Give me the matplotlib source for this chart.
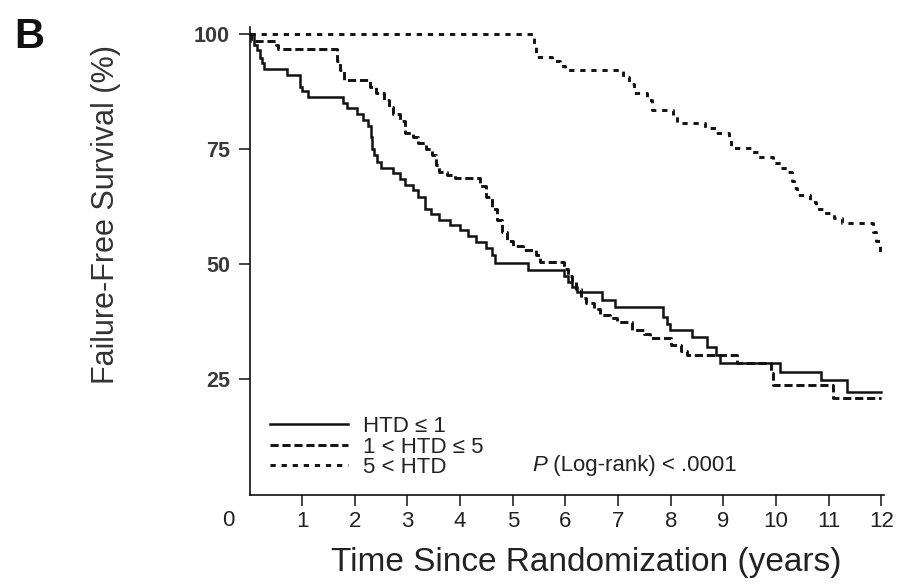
import matplotlib
matplotlib.use("Agg")
import matplotlib.pyplot as plt
from matplotlib import font_manager

W, H, DPI = 897, 587, 100

# Kaplan-Meier failure-free survival (%) by hormone treatment duration group
time_htd_le1 = [0, 0.08, 0.15, 0.20, 0.24, 0.28, 0.72, 0.95, 1.00, 1.12, 1.78, 1.85,
                2.05, 2.15, 2.25, 2.30, 2.33, 2.36, 2.42, 2.50, 2.72, 2.85, 2.95, 3.10,
                3.20, 3.33, 3.45, 3.60, 3.80, 4.00, 4.15, 4.30, 4.50, 4.60, 4.66, 5.28,
                5.98, 6.05, 6.12, 6.22, 6.70, 6.95, 7.85, 7.92, 7.98, 8.40, 8.68, 8.86,
                8.94, 10.08, 10.85, 11.35, 12.0]
surv_htd_le1 = [100, 97.5, 96.5, 94.7, 93.5, 92.3, 90.9, 88.5, 87.5, 86.3, 85.0, 83.8,
                82.5, 81.2, 80.0, 77.5, 75.0, 73.6, 72.2, 70.8, 69.7, 68.5, 67.2, 66.0,
                64.5, 62.0, 60.8, 59.5, 58.5, 57.3, 56.0, 54.8, 53.5, 52.0, 50.2, 48.7,
                47.5, 46.0, 45.0, 44.0, 42.2, 40.6, 38.5, 37.0, 35.7, 34.2, 32.1, 30.3,
                28.5, 26.6, 24.8, 22.3, 22.3]

time_htd_1to5 = [0, 0.03, 0.50, 0.55, 1.66, 1.72, 1.80, 2.28, 2.40, 2.55, 2.65, 2.72,
                 2.86, 2.96, 3.10, 3.20, 3.35, 3.47, 3.55, 3.60, 3.75, 3.90, 4.38, 4.50,
                 4.60, 4.70, 4.80, 4.89, 5.00, 5.20, 5.45, 5.52, 5.97, 6.05, 6.12, 6.20,
                 6.30, 6.40, 6.55, 6.66, 6.85, 6.98, 7.26, 7.50, 7.60, 8.00, 8.20, 8.30,
                 9.26, 9.90, 9.95, 11.08, 12.0]
surv_htd_1to5 = [100, 98.3, 97.5, 96.6, 94.0, 92.0, 90.0, 88.5, 87.0, 85.5, 84.0, 82.5,
                 81.0, 78.5, 77.5, 76.2, 75.0, 73.6, 71.5, 70.0, 69.3, 68.6, 67.0, 64.5,
                 62.0, 59.5, 57.0, 55.0, 54.0, 53.0, 52.0, 50.4, 49.0, 47.5, 46.0, 44.5,
                 42.6, 41.5, 40.3, 39.0, 38.2, 37.5, 35.7, 34.8, 33.9, 32.4, 31.2, 30.3,
                 28.5, 26.4, 23.8, 20.9, 20.9]

time_htd_gt5 = [0, 5.40, 5.45, 5.75, 5.90, 6.00, 7.10, 7.20, 7.30, 7.55, 7.65, 8.05,
                8.12, 8.65, 8.85, 9.10, 9.15, 9.55, 9.65, 9.95, 10.10, 10.20, 10.30,
                10.35, 10.40, 10.65, 10.75, 10.90, 11.10, 11.25, 11.85, 11.90, 11.97, 12.0]
surv_htd_gt5 = [100, 97.5, 95.0, 94.0, 93.0, 92.0, 90.5, 89.0, 87.0, 85.5, 83.5, 82.0,
                80.5, 79.5, 78.5, 77.0, 75.2, 74.3, 73.3, 72.0, 70.8, 70.0, 68.0,
                66.5, 65.0, 63.5, 62.0, 61.0, 60.0, 59.0, 57.0, 55.0, 52.5, 52.5]

group_labels = ["HTD \u2264 1", "1 < HTD \u2264 5", "5 < HTD"]
x_ticks = list(range(1, 13))
y_ticks = [25, 50, 75, 100]
x_title = "Time Since Randomization (years)"
y_title = "Failure-Free Survival (%)"
panel_tag = "B"
pvalue_text = " (Log-rank) < .0001"

installed = {f.name for f in font_manager.fontManager.ttflist}
SANS = [n for n in ["Liberation Sans", "DejaVu Sans"] if n in installed]
plt.rcParams["font.family"] = SANS

INK = "#111111"

fig = plt.figure(figsize=(W / DPI, H / DPI), dpi=DPI)
x0, x1, y0, y1 = 249.5, 884.0, 494.5, 26.6
ax = fig.add_axes([x0 / W, 1 - y0 / H, (x1 - x0) / W, (y0 - y1) / H])
ax.set_xlim(0, 12.05)
ax.set_ylim(0, 101.5)

styles = ["-", (0, (2.8, 1.3)), (0, (1.8, 2.0))]
widths = [1.8, 2.1, 2.1]
series = [(time_htd_le1, surv_htd_le1), (time_htd_1to5, surv_htd_1to5),
          (time_htd_gt5, surv_htd_gt5)]
handles = []
for (t, s), ls, lw, lab in zip(series, styles, widths, group_labels):
    h, = ax.step(t, s, where="post", color=INK, lw=lw, linestyle=ls,
                 label=lab, clip_on=False, solid_joinstyle="miter")
    handles.append(h)

for side in ("top", "right"):
    ax.spines[side].set_visible(False)
for side in ("left", "bottom"):
    ax.spines[side].set_linewidth(1.2)
    ax.spines[side].set_color(INK)

ax.set_xticks(x_ticks)
ax.set_xticklabels([str(v) for v in x_ticks], fontsize=16, color="#222222")
ax.set_yticks(y_ticks)
ax.set_yticklabels([str(v) for v in y_ticks], fontsize=15.5,
                   fontweight="bold", color="#3a3a3a")
ax.tick_params(axis="both", direction="out", length=8, width=1.1, color=INK)
ax.tick_params(axis="x", pad=4)
ax.tick_params(axis="y", pad=6)

leg = ax.legend(handles=handles, frameon=False, loc="lower left",
                bbox_to_anchor=(0.032, 0.035), handlelength=3.5, handletextpad=0.7,
                labelspacing=-0.02, borderpad=0, borderaxespad=0,
                prop={"size": 16})
for txt in leg.get_texts():
    txt.set_color("#222222")

p_txt = ax.text(0.445, 0.05, "P", transform=ax.transAxes, size=16,
                style="italic", color="#222222", va="baseline", ha="left")
ax.annotate(pvalue_text, xy=(1, 0), xycoords=p_txt, va="bottom", ha="left",
            size=16, color="#222222")

fig.text(228 / W, 1 - 520 / H, "0", fontsize=16, color="#222222",
         ha="center", va="center")
fig.text(106 / W, 1 - 215 / H, y_title, rotation=90, fontsize=22, color="#333333",
         ha="center", va="center")
fig.text(586 / W, 1 - 563 / H, x_title, fontsize=24, color="#222222",
         ha="center", va="center")
fig.text(14 / W, 1 - 17 / H, panel_tag, fontsize=30, fontweight="bold", color=INK,
         ha="left", va="top")

fig.savefig("out.png", dpi=DPI)
